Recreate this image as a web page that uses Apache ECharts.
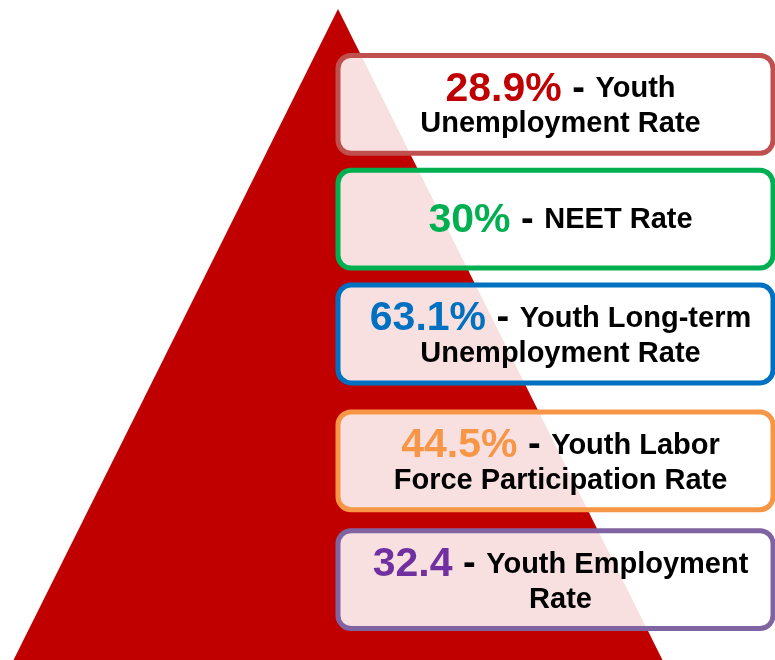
<!DOCTYPE html>
<html>
<head>
<meta charset="utf-8">
<script src="https://cdn.jsdelivr.net/npm/echarts@6/dist/echarts.min.js"></script>
<style>
  body { margin: 0; background: #fff; }
  #chart { width: 775px; height: 660px; }
</style>
</head>
<body>
<div id="chart"></div>
<script>
// indicator values, top to bottom
var indicators = ["Youth Unemployment", "NEET", "Youth Long-term Unemployment", "Youth LFPR", "Youth Employment"];
var values = [28.9, 30, 63.1, 44.5, 32.4];
var units = ["%", "%", "%", "%", ""];
var captionLine1 = ["Youth", "NEET Rate", "Youth Long-term", "Youth Labor", "Youth Employment"];
var captionLine2 = ["Unemployment Rate", "", "Unemployment Rate", "Force Participation Rate", "Rate"];

// styling
var borderColors = ["#c0504d", "#00b050", "#0070c0", "#f79646", "#8064a2"];
var numberColors = ["#c00000", "#00b050", "#0070c0", "#f79646", "#7030a0"];
var boxNudge = [0, -4, -8, 0, 0];
var fontFamily = "Liberation Sans, Arial, sans-serif";

var chart = echarts.init(document.getElementById("chart"));

var option = {
  animation: false,
  graphic: [
    {
      type: "polygon",
      z: 0,
      shape: { points: [[338, 9], [13, 661], [663, 661]] },
      style: { fill: "#c00000" },
    },
  ],
  grid: { left: 338, right: 2, top: 45, bottom: 21 },
  xAxis: { type: "value", min: 0, max: 100, show: false },
  yAxis: {
    type: "category",
    data: indicators,
    inverse: true,
    show: false,
  },
  series: [
    {
      type: "custom",
      z: 5,
      data: values.map(function (v, i) {
        return [v, i];
      }),
      encode: { x: 0, y: 1 },
      renderItem: function (params, api) {
        var i = params.dataIndex;
        var cs = params.coordSys;
        var cy = api.coord([0, i])[1] + boxNudge[i];
        var band = api.size([0, 1])[1];
        var h = band - 21;
        var txt =
          "{num|" + values[i] + units[i] + "}{dash| - }{txt|" + captionLine1[i] + "}";
        if (captionLine2[i]) {
          txt += "\n{txt|" + captionLine2[i] + "}";
        }
        return {
          type: "group",
          children: [
            {
              type: "rect",
              shape: { x: cs.x, y: cy - h / 2, width: cs.width, height: h, r: 13 },
              style: {
                fill: "rgba(255,255,255,0.88)",
                stroke: borderColors[i],
                lineWidth: 5,
              },
            },
            {
              type: "text",
              x: cs.x + cs.width / 2 + 5,
              y: cy + 1,
              style: {
                text: txt,
                align: "center",
                verticalAlign: "middle",
                rich: {
                  num: {
                    fontFamily: fontFamily,
                    fontWeight: "bold",
                    fontSize: 41,
                    lineHeight: 38,
                    fill: numberColors[i],
                  },
                  dash: {
                    fontFamily: fontFamily,
                    fontWeight: "bold",
                    fontSize: 38,
                    lineHeight: 38,
                    fill: "#000",
                  },
                  txt: {
                    fontFamily: fontFamily,
                    fontWeight: "bold",
                    fontSize: 29,
                    lineHeight: 32,
                    fill: "#000",
                  },
                },
              },
            },
          ],
        };
      },
    },
  ],
};

chart.setOption(option);
window.addEventListener("resize", () => {
  chart.resize();
});
</script>
</body>
</html>
